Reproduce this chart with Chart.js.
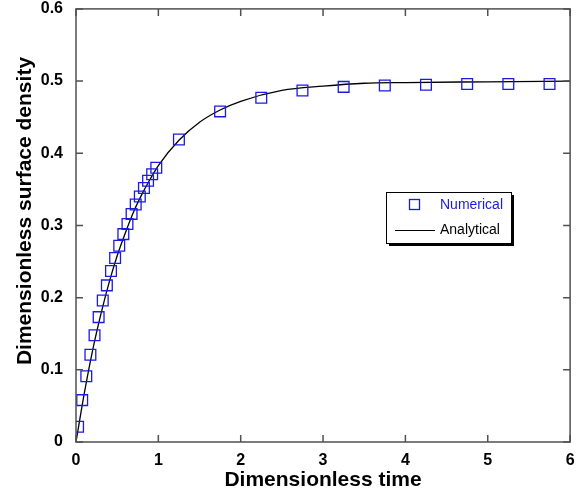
<!DOCTYPE html>
<html>
<head>
<meta charset="utf-8">
<script src="https://cdn.jsdelivr.net/npm/chart.js@4.4.1/dist/chart.umd.min.js"></script>
<style>
  html, body { margin: 0; padding: 0; background: #fff; }
  #wrap { width: 579px; height: 496px; }
</style>
</head>
<body>
<div id="wrap"><canvas id="chart" width="579" height="496"></canvas></div>
<script>
// numerical solution (squares)
var numTime = [0.025, 0.075, 0.125, 0.175, 0.225, 0.275, 0.325, 0.375, 0.425, 0.475,
               0.525, 0.575, 0.625, 0.675, 0.725, 0.775, 0.825, 0.875, 0.925, 0.975,
               1.25, 1.75, 2.25, 2.75, 3.25, 3.75, 4.25, 4.75, 5.25, 5.75];
var numDensity = [0.021, 0.058, 0.091, 0.121, 0.148, 0.173, 0.196, 0.217, 0.237, 0.255,
                  0.272, 0.288, 0.302, 0.316, 0.329, 0.340, 0.352, 0.362, 0.371, 0.380,
                  0.419, 0.458, 0.477, 0.487, 0.492, 0.494, 0.495, 0.496, 0.496, 0.496];

// analytical curve (solid line)
var anaTime = [0, 0.1, 0.2, 0.3, 0.4, 0.5, 0.6, 0.7, 0.8, 0.9, 1.0, 1.25, 1.5, 1.75,
               2.0, 2.5, 3.0, 3.5, 4.0, 5.0, 6.0];
var anaDensity = [0, 0.067, 0.126, 0.176, 0.220, 0.258, 0.290, 0.319, 0.343, 0.364, 0.383,
                  0.418, 0.443, 0.460, 0.472, 0.487, 0.493, 0.497, 0.498, 0.499, 0.500];

var xTicks = [0, 1, 2, 3, 4, 5, 6];
var yTicks = [0, 0.1, 0.2, 0.3, 0.4, 0.5, 0.6];

var numPts = numTime.map(function (t, i) { return { x: t, y: numDensity[i] }; });
var anaPts = anaTime.map(function (t, i) { return { x: t, y: anaDensity[i] }; });

var blue = '#1a1ae6';
var tickFont = { family: '"Liberation Sans", Arial, sans-serif', size: 16, weight: 'bold' };

// frame, inward ticks, axis titles and boxed legend
var decor = {
  id: 'decor',
  afterDraw: function (chart) {
    var ctx = chart.ctx, a = chart.chartArea;
    var xs = chart.scales.x, ys = chart.scales.y;
    ctx.save();
    ctx.strokeStyle = '#505050';
    ctx.lineWidth = 1.5;
    ctx.strokeRect(a.left, a.top, a.right - a.left, a.bottom - a.top);
    ctx.beginPath();
    xTicks.forEach(function (v) {
      var px = xs.getPixelForValue(v);
      ctx.moveTo(px, a.bottom); ctx.lineTo(px, a.bottom - 7);
      ctx.moveTo(px, a.top); ctx.lineTo(px, a.top + 7);
    });
    yTicks.forEach(function (v) {
      var py = ys.getPixelForValue(v);
      ctx.moveTo(a.left, py); ctx.lineTo(a.left + 7, py);
      ctx.moveTo(a.right, py); ctx.lineTo(a.right - 7, py);
    });
    ctx.stroke();

    // axis titles
    ctx.fillStyle = '#000';
    ctx.font = 'bold 21px "Liberation Sans", Arial, sans-serif';
    ctx.textAlign = 'center';
    ctx.textBaseline = 'middle';
    ctx.fillText('Dimensionless time', (a.left + a.right) / 2, 480);
    ctx.save();
    ctx.translate(25, 211);
    ctx.rotate(-Math.PI / 2);
    ctx.fillText('Dimensionless surface density', 0, 0);
    ctx.restore();

    // legend box with drop shadow
    var bx = 386, by = 192, bw = 125, bh = 51;
    ctx.fillStyle = '#000';
    ctx.fillRect(bx + 3, by + 3, bw, bh);
    ctx.fillStyle = '#fff';
    ctx.fillRect(bx, by, bw, bh);
    ctx.strokeStyle = '#000';
    ctx.lineWidth = 1;
    ctx.strokeRect(bx + 0.5, by + 0.5, bw, bh);

    var ds = chart.data.datasets;
    ctx.font = '14px "Liberation Sans", Arial, sans-serif';
    ctx.textAlign = 'left';
    ctx.strokeStyle = blue;
    ctx.lineWidth = 1.3;
    ctx.strokeRect(409.5, 199.5, 10, 10);
    ctx.fillStyle = blue;
    ctx.fillText(ds[0].label, 440, 205);
    ctx.strokeStyle = '#000';
    ctx.lineWidth = 1;
    ctx.beginPath();
    ctx.moveTo(395, 230.5); ctx.lineTo(435, 230.5);
    ctx.stroke();
    ctx.fillStyle = '#000';
    ctx.fillText(ds[1].label, 440, 230);
    ctx.restore();
  }
};

// fixed axis boxes, no extra room for overhanging end labels
function fixX(s) { s.height = 54; s.paddingLeft = 0; s.paddingRight = 0; s.paddingTop = 0; s.paddingBottom = 0; }
function fixY(s) { s.width = 76; s.paddingLeft = 0; s.paddingRight = 0; s.paddingTop = 0; s.paddingBottom = 0; }

new Chart(document.getElementById('chart'), {
  type: 'scatter',
  data: {
    datasets: [
      {
        label: 'Numerical',
        data: numPts,
        showLine: false,
        pointStyle: 'rect',
        pointRadius: 7.6,
        pointBorderWidth: 1.3,
        pointBorderColor: blue,
        pointBackgroundColor: 'rgba(0,0,0,0)',
        order: 1
      },
      {
        label: 'Analytical',
        data: anaPts,
        showLine: true,
        borderColor: '#000',
        borderWidth: 1.3,
        pointRadius: 0,
        cubicInterpolationMode: 'monotone',
        fill: false,
        order: 2
      }
    ]
  },
  options: {
    responsive: false,
    animation: false,
    layout: { padding: { top: 6, right: 6, left: 0, bottom: 0 } },
    plugins: { legend: { display: false }, tooltip: { enabled: false } },
    scales: {
      x: {
        type: 'linear', min: 0, max: 6,
        afterBuildTicks: function (s) { s.ticks = xTicks.map(function (v) { return { value: v }; }); },
        afterFit: fixX,
        grid: { display: false, drawTicks: false },
        border: { display: false },
        ticks: { font: tickFont, color: '#000', padding: 9, maxRotation: 0 }
      },
      y: {
        type: 'linear', min: 0, max: 0.6,
        afterBuildTicks: function (s) { s.ticks = yTicks.map(function (v) { return { value: v }; }); },
        afterFit: fixY,
        grid: { display: false, drawTicks: false },
        border: { display: false },
        ticks: {
          font: tickFont, color: '#000', padding: 13,
          callback: function (v) { return v === 0 ? '0' : v.toFixed(1); }
        }
      }
    }
  },
  plugins: [decor]
});
</script>
</body>
</html>
